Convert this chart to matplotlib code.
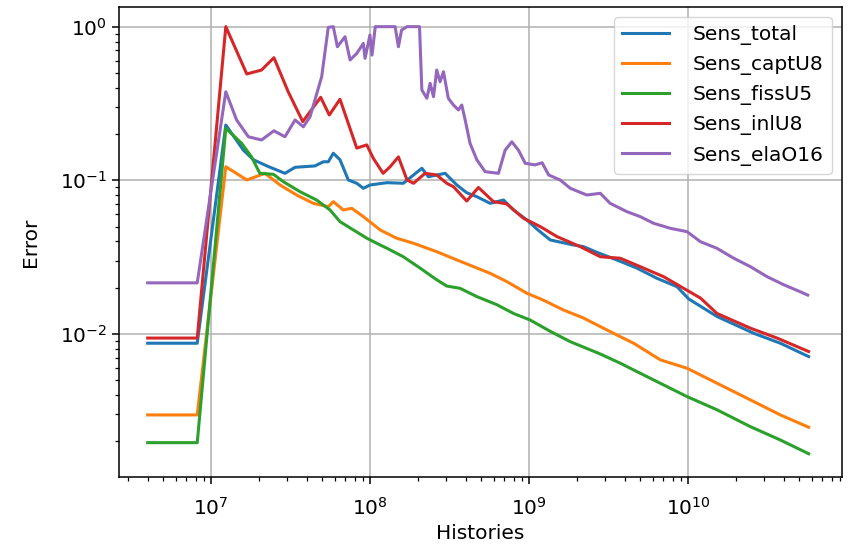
import numpy as np
import matplotlib
matplotlib.use("Agg")
import matplotlib.pyplot as plt

# values (histories, relative error)
hist_total = [4.0e6, 8.2e6, 1.24e7, 1.60e7, 1.85e7, 2.29e7, 2.92e7, 3.38e7, 4.51e7, 5.09e7,
              5.47e7, 5.88e7, 6.48e7, 7.31e7, 8.26e7, 9.09e7, 1.00e8, 1.28e8, 1.62e8, 1.88e8,
              2.12e8, 2.33e8, 2.97e8, 3.52e8, 4.06e8, 4.70e8, 5.70e8, 6.92e8, 7.98e8, 9.70e8,
              1.12e9, 1.36e9, 1.91e9, 2.20e9, 2.67e9, 3.57e9, 4.78e9, 6.39e9, 8.53e9, 1.01e10,
              1.52e10, 2.59e10, 3.81e10, 5.74e10]
err_total = [0.0087, 0.0087, 0.229, 0.157, 0.136, 0.123, 0.111, 0.1215, 0.124, 0.132,
             0.132, 0.150, 0.136, 0.1005, 0.0956, 0.0887, 0.0932, 0.0965, 0.0956, 0.1083,
             0.1197, 0.1055, 0.111, 0.0932, 0.083, 0.0782, 0.0708, 0.0744, 0.0641, 0.0552,
             0.0482, 0.0409, 0.0379, 0.0370, 0.034, 0.0303, 0.0268, 0.0230, 0.0203, 0.0169,
             0.0130, 0.0101, 0.0087, 0.00712]

hist_captU8 = [4.0e6, 8.2e6, 1.24e7, 1.68e7, 2.19e7, 2.72e7, 3.46e7, 4.40e7, 5.47e7, 5.88e7,
               6.80e7, 7.68e7, 9.09e7, 1.16e8, 1.47e8, 1.88e8, 2.63e8, 3.52e8, 4.48e8, 5.70e8,
               7.26e8, 9.70e8, 1.23e9, 1.65e9, 2.20e9, 2.94e9, 3.75e9, 4.55e9, 6.70e9, 9.86e9,
               1.52e10, 2.47e10, 3.81e10, 5.74e10]
err_captU8 = [0.00297, 0.00297, 0.1226, 0.1005, 0.111, 0.0932, 0.0802, 0.0708, 0.0673, 0.0726,
              0.0641, 0.0657, 0.0580, 0.0475, 0.0420, 0.0389, 0.0343, 0.0303, 0.0274, 0.0248,
              0.0219, 0.0184, 0.0166, 0.0143, 0.0127, 0.0109, 0.0096, 0.0087, 0.00678, 0.00598,
              0.00478, 0.00372, 0.00297, 0.00247]

hist_fissU5 = [4.0e6, 8.2e6, 1.24e7, 1.56e7, 1.80e7, 2.03e7, 2.47e7, 2.85e7, 3.63e7, 4.62e7,
               5.61e7, 6.48e7, 7.87e7, 9.55e7, 1.16e8, 1.28e8, 1.62e8, 2.07e8, 2.63e8, 3.04e8,
               3.69e8, 4.70e8, 6.28e8, 7.98e8, 1.02e9, 1.36e9, 1.82e9, 2.81e9, 3.75e9, 4.55e9,
               7.38e9, 9.86e9, 1.52e10, 2.47e10, 3.81e10, 5.74e10]
err_fissU5 = [0.00196, 0.00196, 0.218, 0.174, 0.142, 0.111, 0.1094, 0.098, 0.0843, 0.0744,
              0.0641, 0.0538, 0.0475, 0.0420, 0.0379, 0.0361, 0.0318, 0.0268, 0.0225, 0.0205,
              0.0198, 0.0175, 0.0155, 0.0136, 0.0123, 0.0104, 0.0089, 0.0074, 0.00645, 0.00583,
              0.00454, 0.00391, 0.00321, 0.00249, 0.00204, 0.00166]

hist_inlU8 = [4.0e6, 8.2e6, 1.24e7, 1.68e7, 2.08e7, 2.49e7, 3.06e7, 3.78e7, 4.90e7, 5.55e7,
              6.48e7, 8.26e7, 9.55e7, 1.05e8, 1.21e8, 1.34e8, 1.51e8, 1.71e8, 1.88e8, 2.22e8,
              2.63e8, 3.04e8, 3.35e8, 4.06e8, 4.81e8, 5.98e8, 7.26e8, 9.24e8, 1.18e9, 1.50e9,
              2.10e9, 2.81e9, 3.75e9, 5.01e9, 7.02e9, 9.40e9, 1.20e10, 1.52e10, 2.47e10, 3.63e10,
              5.74e10]
err_inlU8 = [0.0094, 0.0094, 1.0, 0.492, 0.522, 0.628, 0.377, 0.241, 0.347, 0.266,
             0.337, 0.162, 0.170, 0.139, 0.111, 0.1226, 0.142, 0.1005, 0.0956, 0.111,
             0.1083, 0.0956, 0.0909, 0.0733, 0.0898, 0.0726, 0.0702, 0.0566, 0.0499, 0.0430,
             0.0370, 0.0318, 0.0311, 0.0274, 0.0236, 0.0198, 0.0171, 0.0136, 0.0109, 0.0094,
             0.00768]

hist_elaO16 = [4.0e6, 8.2e6, 1.24e7, 1.45e7, 1.72e7, 2.08e7, 2.49e7, 2.92e7, 3.38e7, 3.81e7,
               4.20e7, 4.97e7, 5.47e7, 5.88e7, 6.24e7, 6.97e7, 7.50e7, 8.26e7, 9.09e7, 9.31e7,
               1.00e8, 1.03e8, 1.08e8, 1.44e8, 1.51e8, 1.58e8, 1.71e8, 2.05e8, 2.12e8, 2.28e8,
               2.39e8, 2.51e8, 2.63e8, 2.76e8, 2.90e8, 3.11e8, 3.35e8, 3.60e8, 3.78e8, 3.97e8,
               4.26e8, 4.70e8, 5.30e8, 6.43e8, 7.08e8, 7.80e8, 8.59e8, 9.47e8, 1.09e9, 1.21e9,
               1.33e9, 1.57e9, 1.82e9, 2.31e9, 2.81e9, 3.24e9, 4.13e9, 5.01e9, 6.08e9, 7.74e9,
               9.86e9, 1.20e10, 1.52e10, 1.94e10, 2.47e10, 3.14e10, 4.00e10, 5.09e10, 5.66e10]
err_elaO16 = [0.0215, 0.0215, 0.377, 0.247, 0.192, 0.183, 0.210, 0.192, 0.247, 0.223,
              0.259, 0.472, 0.99, 1.0, 0.740, 0.86, 0.607, 0.670, 0.778, 0.622,
              0.882, 0.653, 1.0, 1.0, 0.740, 0.95, 1.0, 1.0, 0.387, 0.342,
              0.428, 0.350, 0.522, 0.438, 0.509, 0.342, 0.309, 0.287, 0.309, 0.247,
              0.174, 0.136, 0.1138, 0.111, 0.157, 0.178, 0.157, 0.129, 0.126, 0.130,
              0.1083, 0.1005, 0.0887, 0.0802, 0.0823, 0.0708, 0.0625, 0.0580, 0.0525, 0.0487,
              0.0463, 0.0398, 0.0361, 0.0311, 0.0274, 0.0236, 0.0209, 0.0188, 0.0179]

series = [
    ("Sens_total", hist_total, err_total),
    ("Sens_captU8", hist_captU8, err_captU8),
    ("Sens_fissU5", hist_fissU5, err_fissU5),
    ("Sens_inlU8", hist_inlU8, err_inlU8),
    ("Sens_elaO16", hist_elaO16, err_elaO16),
]

plt.rcParams['font.size'] = 14.5
plt.rcParams['axes.linewidth'] = 1.1

fig, ax = plt.subplots(figsize=(8.48, 5.49), dpi=100)
fig.subplots_adjust(left=0.1403, right=0.9929, bottom=0.131, top=0.987)

for name, h, e in series:
    ax.plot(h, e, label=name, linewidth=2.2)

ax.set_xscale('log')
ax.set_yscale('log')
ax.set_xlim(2.64e6, 9.3e10)
ax.set_ylim(1.17e-3, 1.34)
ax.grid(True, linewidth=1.1)
ax.tick_params(which='major', length=5, width=1.1)
ax.tick_params(which='minor', length=3, width=0.9)
ax.tick_params(axis='x', which='major', pad=9)
ax.set_xlabel("Histories", labelpad=4)
ax.set_ylabel("Error", labelpad=14)
ax.legend(loc='upper right', handlelength=2.3, handletextpad=1.2)

plt.savefig("out.png")
